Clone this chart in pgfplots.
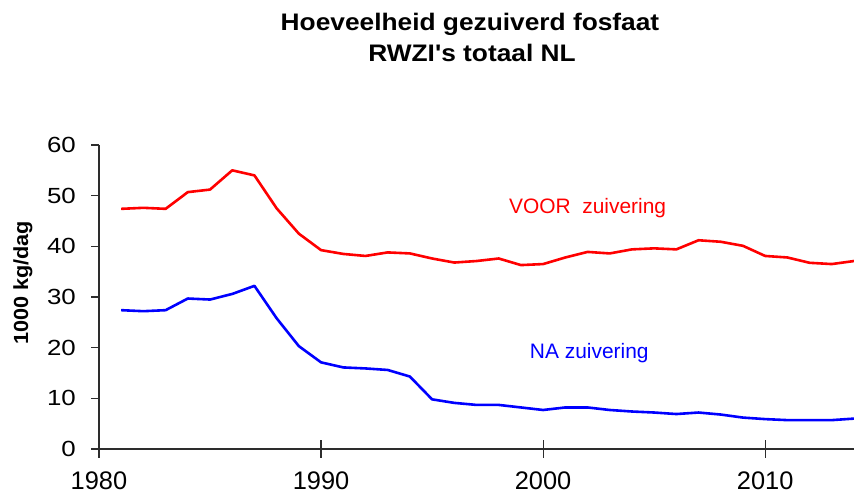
\documentclass[border=0pt]{standalone}
\usepackage{fontspec}
\setmainfont{Liberation Sans}[Ligatures=TeXOff]
\usepackage{graphicx}
\usepackage{pgfplots}
\usepackage{pgfplotstable}
\pgfplotsset{compat=1.18}
\definecolor{vred}{RGB}{255,0,0}
\definecolor{nblue}{RGB}{0,0,255}
\definecolor{axgray}{RGB}{45,45,45}

\pgfplotstableread{
year value
1981 47.4
1982 47.6
1983 47.4
1984 50.7
1985 51.2
1986 55.0
1987 54.0
1988 47.5
1989 42.5
1990 39.25
1991 38.5
1992 38.1
1993 38.8
1994 38.6
1995 37.6
1996 36.8
1997 37.1
1998 37.6
1999 36.3
2000 36.5
2001 37.8
2002 38.9
2003 38.6
2004 39.4
2005 39.6
2006 39.4
2007 41.2
2008 40.9
2009 40.1
2010 38.1
2011 37.8
2012 36.75
2013 36.5
2014 37.1
}\voortable

\pgfplotstableread{
year value
1981 27.4
1982 27.2
1983 27.4
1984 29.7
1985 29.5
1986 30.6
1987 32.2
1988 25.8
1989 20.3
1990 17.1
1991 16.1
1992 15.9
1993 15.6
1994 14.3
1995 9.8
1996 9.1
1997 8.7
1998 8.7
1999 8.2
2000 7.7
2001 8.2
2002 8.2
2003 7.7
2004 7.4
2005 7.2
2006 6.9
2007 7.2
2008 6.8
2009 6.2
2010 5.9
2011 5.7
2012 5.7
2013 5.7
2014 6.0
}\natable

\begin{document}
\begin{tikzpicture}[x=1bp,y=1bp]
\begin{axis}[
  at={(99bp,49bp)}, anchor=south west,
  scale only axis, width=755bp, height=304bp,
  xmin=1980, xmax=2014, ymin=0, ymax=60,
  axis x line*=bottom, axis y line*=left,
  axis line style={axgray, line width=1.2bp, -},
  every tick/.style={axgray, line width=1.2bp},
  tick align=outside,
  major tick length=8bp, minor tick length=6bp,
  xtick=\empty,
  minor xtick={1982,1984,1986,1988,1992,1994,1996,1998,2002,2004,2006,2008,2012},
  extra x ticks={1980,1990,2000,2010},
  extra x tick labels={1980,1990,2000,2010},
  extra x tick style={tick align=center, major tick length=17bp},
  xticklabel style={font=\fontsize{25.5}{26}\selectfont, inner sep=0pt, anchor=north, yshift=-14bp},
  ytick={0,10,20,30,40,50,60},
  yticklabel={\scalebox{1.18}[1]{\pgfmathprintnumber[assume math mode=true]{\tick}}},
  yticklabel style={font=\fontsize{22}{22}\selectfont, inner sep=0pt, anchor=east},
  yticklabel shift=15bp,
  line join=round,
]
\addplot[vred, line width=2.6bp, no markers] table[x=year, y=value] {\voortable};
\addplot[nblue, line width=2.6bp, no markers] table[x=year, y=value] {\natable};
\node[anchor=base west, text=vred, inner sep=0pt, font=\fontsize{21}{21}\selectfont] at (axis cs:1998.46,46.5) {VOOR\ \ zuivering};
\node[anchor=base west, text=nblue, inner sep=0pt, font=\fontsize{21}{21}\selectfont] at (axis cs:1999.4,17.9) {NA zuivering};
\end{axis}
\node[anchor=base, inner sep=0pt, font=\bfseries\fontsize{24}{24}\selectfont] at (470bp,467.3bp) {\scalebox{1.1}[1]{Hoeveelheid gezuiverd fosfaat}};
\node[anchor=base, inner sep=0pt, font=\bfseries\fontsize{24}{24}\selectfont] at (472bp,436.3bp) {\scalebox{1.1}[1]{RWZI's totaal NL}};
\node[rotate=90, inner sep=0pt, font=\bfseries\fontsize{20.5}{21}\selectfont] at (23bp,215bp) {\scalebox{1.06}[1]{1000 kg/dag}};
\pgfresetboundingbox
\path[use as bounding box] (0,0) rectangle (854bp,498bp);
\end{tikzpicture}
\end{document}
